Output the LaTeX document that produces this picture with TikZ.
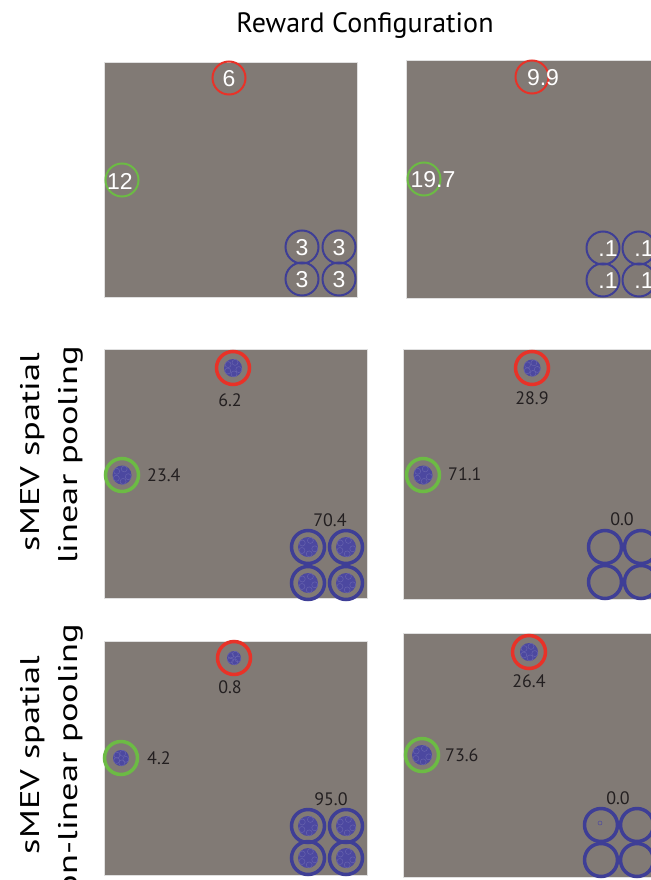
\documentclass[tikz,border=0pt]{standalone}
\usepackage{fontspec}
\setmainfont{PT Sans}
\newfontfamily\numfont{Liberation Sans}
\definecolor{panelgray}{RGB}{129,122,117}
\definecolor{ringred}{RGB}{232,50,40}
\definecolor{ringgreen}{RGB}{108,187,68}
\definecolor{ringblue}{RGB}{62,62,150}
\definecolor{blobblue}{RGB}{76,72,160}
\definecolor{textdark}{RGB}{35,31,32}
\newcommand{\cluster}[2]{%
  \fill[blobblue] (#1) circle[radius=#2];
  \foreach \a in {15,80,150,215,290}
    \draw[blobblue!85!white, line width=0.5pt] (#1) ++(\a:#2-3) circle[radius=3];
}

\begin{document}
\begin{tikzpicture}[x=1pt,y=-1pt,
  panel/.style={fill=panelgray, draw=black!12, line width=0.8pt},
  ring/.style={circle, draw=#1, line width=2pt, minimum size=33pt, inner sep=0pt},
  thickring/.style={circle, draw=#1, line width=3.5pt, minimum size=33pt, inner sep=0pt},
  reward/.style={text=white, inner sep=0pt, font=\numfont\fontsize{23}{23}\selectfont},
  share/.style={text=textdark, inner sep=0pt, font=\fontsize{18}{18}\selectfont},
  rowlab/.style={rotate=90, anchor=base, inner sep=0pt, font=\fontsize{27}{27}\selectfont}]
\useasboundingbox (0,0) rectangle (650,880);
\node[anchor=base, font=\fontsize{28}{28}\selectfont] (title) at (365,33) {Reward Configuration};

% reward configuration
\draw[panel] (104,62) rectangle (357,297);
\draw[panel] (406,60) rectangle (670,298);
\node[ring=ringred] (r1) at (229,78) {};
\node[reward] (r1t) at (229,79) {6};
\node[ring=ringgreen] (g1) at (122,180) {};
\node[reward] (g1t) at (120,181) {12};
\foreach \x/\y [count=\i] in {302/247,339/247,302/279,339/279}{
  \node[ring=ringblue] (b1\i) at (\x,\y) {};
  \node[reward] (b1t\i) at (\x,\y+1) {3};
}
\node[ring=ringred] (r2) at (532,77) {};
\node[reward] (r2t) at (543,78) {9.9};
\node[ring=ringgreen] (g2) at (424,179) {};
\node[reward] (g2t) at (433,180) {19.7};
\foreach \x/\y [count=\i] in {603/248,639/248,603/280,639/280}{
  \node[ring=ringblue] (b2\i) at (\x,\y) {};
  \node[reward] (b2t\i) at (\x+5,\y+1) {.1};
}

% linear pooling
\node[rowlab] (row2a) at (39,452) {\scalebox{1.35}[1]{sMEV spatial}};
\node[rowlab] (row2b) at (77,455) {\scalebox{1.35}[1]{linear pooling}};
\draw[panel] (104,349) rectangle (367,598);
\draw[panel] (403,349) rectangle (670,599);
\cluster{233,368}{9}
\node[thickring=ringred] (r3) at (233,368) {};
\node[share] (r3t) at (230,400) {6.2};
\cluster{122,475}{9.5}
\node[thickring=ringgreen] (g3) at (122,475) {};
\node[share, anchor=west] (g3t) at (147,475) {23.4};
\foreach \x/\y [count=\i] in {308/547,346/547,308/583,346/583}{
  \cluster{\x,\y}{10}
  \node[thickring=ringblue] (b3\i) at (\x,\y) {};
}
\node[share] (b3t) at (330,520) {70.4};
\cluster{532,368}{8.5}
\node[thickring=ringred] (r4) at (532,368) {};
\node[share] (r4t) at (532,398) {28.9};
\cluster{423,475}{9.5}
\node[thickring=ringgreen] (g4) at (423,475) {};
\node[share, anchor=west] (g4t) at (448,474) {71.1};
\foreach \x/\y [count=\i] in {605/547,641/547,605/582,641/582}
  \node[thickring=ringblue] (b4\i) at (\x,\y) {};
\node[share] (b4t) at (622,519) {0.0};

% non-linear pooling
\node[rowlab] (row3a) at (39,755) {\scalebox{1.35}[1]{sMEV spatial}};
\node[rowlab] (row3b) at (77,769) {\scalebox{1.35}[1]{non-linear pooling}};
\draw[panel] (104,641) rectangle (367,875);
\draw[panel] (403,633) rectangle (670,877);
\cluster{234,658}{7}
\node[thickring=ringred] (r5) at (234,658) {};
\node[share] (r5t) at (230,687) {0.8};
\cluster{121,758}{8}
\node[thickring=ringgreen] (g5) at (121,758) {};
\node[share, anchor=west] (g5t) at (147,758) {4.2};
\foreach \x/\y [count=\i] in {308/826,346/826,308/858,346/858}{
  \cluster{\x,\y}{10}
  \node[thickring=ringblue] (b5\i) at (\x,\y) {};
}
\node[share] (b5t) at (331,799) {95.0};
\cluster{529,652}{9}
\node[thickring=ringred] (r6) at (529,652) {};
\node[share] (r6t) at (529,681) {26.4};
\cluster{422,755}{10}
\node[thickring=ringgreen] (g6) at (422,755) {};
\node[share, anchor=west] (g6t) at (445,755) {73.6};
\foreach \x/\y [count=\i] in {601/825,637/825,601/860,637/860}
  \node[thickring=ringblue] (b6\i) at (\x,\y) {};
\draw[blobblue, line width=0.5pt] (600,823) circle[radius=2];
\node[share] (b6t) at (618,798) {0.0};
\end{tikzpicture}
\end{document}
